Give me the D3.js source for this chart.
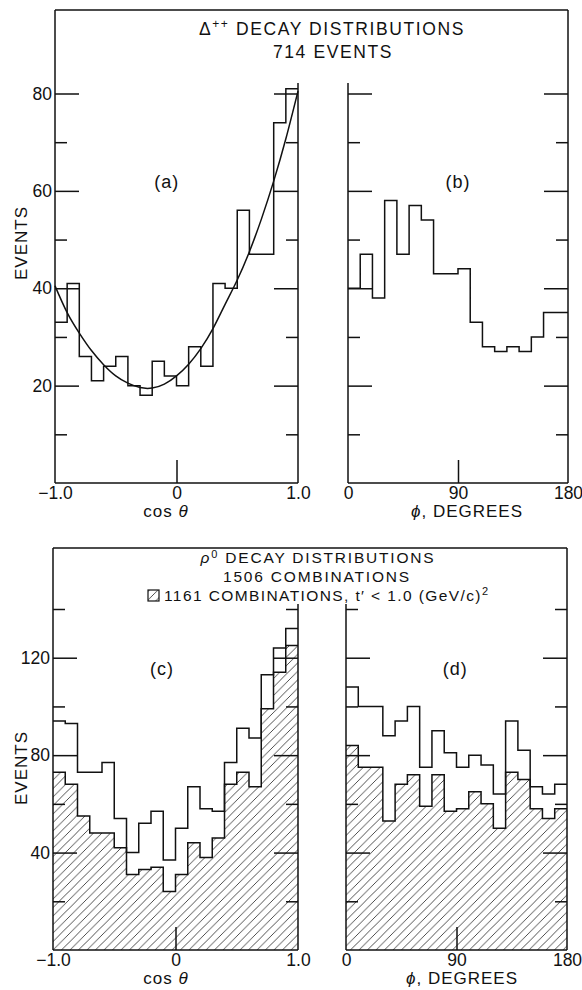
<!DOCTYPE html>
<html><head><meta charset="utf-8">
<script src="https://cdn.jsdelivr.net/npm/d3@7"></script>
<style>
body{margin:0;background:#fff}
svg{display:block}
text{font-family:"Liberation Sans",Arial,sans-serif;fill:#111}
</style>
</head><body>
<svg id="chart" width="582" height="990"></svg>
<script>
// ---------- DATA ----------
const cosEdges = [-1.0,-0.9,-0.8,-0.7,-0.6,-0.5,-0.4,-0.3,-0.2,-0.1,0.0,0.1,0.2,0.3,0.4,0.5,0.6,0.7,0.8,0.9,1.0];
const phiEdges = [0,10,20,30,40,50,60,70,80,90,100,110,120,130,140,150,160,170,180];

// (a) Delta++ cos theta, 714 events
const deltaCos = [33,41,26,21,24,26,20,18,25,22,20,28,24,41,40,56,47,47,74,81];
// fitted curve at cosEdges
const deltaFit = [40.5,35,30.8,27.2,24.3,22,20.5,19.6,19.5,20.3,22,24.4,27.6,31.7,36.7,41.7,47.5,54.3,62,70.7,80.5];
// (b) Delta++ phi
const deltaPhi = [40,47,38,58,47,57,54,43,43,44,33,28,27,28,27,30,35,35];

// (c) rho0 cos theta: all 1506 combinations, hatched 1161 combinations
const rhoCosAll = [94,93,73,73,77,54,40,52,57,37,50,67,58,57,77,91,87,113,124,132];
const rhoCosCut = [73,68,55,48,48,42,31,33,34,24,31,44,38,46,68,73,67,99,114,125];
// (d) rho0 phi
const rhoPhiAll = [108,100,100,88,94,100,75,90,81,75,80,76,64,94,82,67,64,68];
const rhoPhiCut = [84,75,75,53,68,72,59,72,57,58,65,60,50,73,70,58,54,58];

const topMajor = [20,40,60,80], topMinor = [10,30,50,70];
const botMajor = [40,80,120], botMinor = [20,60,100,140];
const cosTicks = [-1,0,1], cosTickLabels = ["\u22121.0","0","1.0"];
const phiTicks = [0,90,180], phiTickLabels = ["0","90","180"];

// ---------- DRAW ----------
const svg = d3.select("#chart");
const INK = "#111";
const SW = 1.5;

const defs = svg.append("defs");
const pat = defs.append("pattern").attr("id","hatch")
  .attr("patternUnits","userSpaceOnUse").attr("width",8.5).attr("height",8.5);
pat.append("path")
  .attr("d","M-2.125,2.125 l4.25,-4.25 M0,8.5 l8.5,-8.5 M6.375,10.625 l4.25,-4.25")
  .attr("stroke","#222").attr("stroke-width",0.8);

function stepPoints(edges, vals){
  const pts = vals.map((v,i)=>[edges[i], v]);
  pts.push([edges[edges.length-1], vals[vals.length-1]]);
  return pts;
}

function drawPanel(o){
  const g = svg.append("g");
  const x = d3.scaleLinear().domain(o.xDomain).range(o.xRange);
  const y = o.y;
  const [x0,x1] = o.xRange;
  const yb = y(0);

  if (o.cut){
    const pts = stepPoints(o.edges, o.cut);
    g.append("path").datum(pts)
      .attr("d", d3.area().curve(d3.curveStepAfter).x(d=>x(d[0])).y0(yb).y1(d=>y(d[1])))
      .attr("fill","url(#hatch)");
    g.append("path").datum(pts)
      .attr("d", d3.line().curve(d3.curveStepAfter).x(d=>x(d[0])).y(d=>y(d[1])))
      .attr("fill","none").attr("stroke",INK).attr("stroke-width",SW);
  }
  const ptsA = stepPoints(o.edges, o.vals);
  g.append("path").datum(ptsA)
    .attr("d", d3.line().curve(d3.curveStepAfter).x(d=>x(d[0])).y(d=>y(d[1])))
    .attr("fill","none").attr("stroke",INK).attr("stroke-width",SW);

  if (o.fit){
    g.append("path").datum(o.fit.map((v,i)=>[o.edges[i], v]))
      .attr("d", d3.line().curve(d3.curveNatural).x(d=>x(d[0])).y(d=>y(d[1])))
      .attr("fill","none").attr("stroke",INK).attr("stroke-width",SW);
  }

  const fr = g.append("g").attr("stroke",INK).attr("stroke-width",SW).attr("fill","none");
  fr.append("line").attr("x1",x0).attr("x2",x1).attr("y1",yb).attr("y2",yb);
  fr.append("line").attr("x1",x0).attr("x2",x0).attr("y1",o.leftTop).attr("y2",yb);
  fr.append("line").attr("x1",x1).attr("x2",x1).attr("y1",o.rightTop).attr("y2",yb);

  const clean = s => { s.select(".domain").remove(); s.selectAll("line").attr("stroke",INK).attr("stroke-width",SW); };
  g.append("g").attr("transform",`translate(${x0},0)`)
    .call(d3.axisRight(y).tickValues(o.major).tickSize(24).tickFormat("")).call(clean);
  g.append("g").attr("transform",`translate(${x0},0)`)
    .call(d3.axisRight(y).tickValues(o.minor).tickSize(12).tickFormat("")).call(clean);
  g.append("g").attr("transform",`translate(${x1},0)`)
    .call(d3.axisLeft(y).tickValues(o.major).tickSize(24).tickFormat("")).call(clean);
  g.append("g").attr("transform",`translate(${x1},0)`)
    .call(d3.axisLeft(y).tickValues(o.minor).tickSize(12).tickFormat("")).call(clean);
  if (o.yLabels){
    const ya = g.append("g").attr("transform",`translate(${x0},0)`)
      .call(d3.axisLeft(y).tickValues(o.major).tickSize(0).tickPadding(3));
    ya.select(".domain").remove();
    ya.selectAll("text").attr("font-size",17.5).attr("font-family",null).attr("fill",INK);
  }
  g.append("g").attr("transform",`translate(0,${yb})`)
    .call(d3.axisTop(x).tickValues([o.xTicks[1]]).tickSize(23).tickFormat("")).call(clean);
  const xa = g.append("g").attr("transform",`translate(0,${yb})`)
    .call(d3.axisBottom(x).tickValues(o.xTicks).tickSize(0).tickPadding(4)
      .tickFormat((d,i)=>o.xTickLabels[i]));
  xa.select(".domain").remove();
  xa.selectAll("text").attr("font-size",17.5).attr("font-family",null).attr("fill",INK);

  g.append("text").attr("x",x(o.letterPos[0])).attr("y",y(o.letterPos[1]))
    .attr("text-anchor","middle").attr("font-size",18).attr("letter-spacing",1).text(o.letter);

  const t = g.append("text").attr("x",o.titleX).attr("y",yb+34)
    .attr("text-anchor","middle").attr("font-size",17).attr("letter-spacing",1);
  o.title(t);
  return {x,y};
}

// ---------- TOP ----------
const yTop = d3.scaleLinear().domain([0,80]).range([483,93.5]);
const topFrame = 10, topInner = 83;

drawPanel({xDomain:[-1,1], xRange:[55,298], y:yTop, edges:cosEdges, vals:deltaCos, fit:deltaFit,
  leftTop:topFrame, rightTop:topInner, major:topMajor, minor:topMinor, yLabels:true,
  xTicks:cosTicks, xTickLabels:cosTickLabels, letter:"(a)", letterPos:[-0.08,60.5],
  titleX:166, title:t=>{t.append("tspan").text("cos  "); t.append("tspan").attr("font-style","italic").text("\u03b8");}});
drawPanel({xDomain:[0,180], xRange:[348,568], y:yTop, edges:phiEdges, vals:deltaPhi,
  leftTop:topInner, rightTop:topFrame, major:topMajor, minor:topMinor, yLabels:false,
  xTicks:phiTicks, xTickLabels:phiTickLabels, letter:"(b)", letterPos:[90,60.5],
  titleX:467, title:t=>{t.append("tspan").attr("font-style","italic").text("\u03d5"); t.append("tspan").text(", DEGREES");}});
svg.append("line").attr("x1",55).attr("x2",568).attr("y1",topFrame).attr("y2",topFrame)
  .attr("stroke",INK).attr("stroke-width",SW);

const t1 = svg.append("text").attr("x",332).attr("y",35).attr("text-anchor","middle")
  .attr("font-size",17.5).attr("letter-spacing",1.6);
t1.append("tspan").text("\u0394");
t1.append("tspan").attr("font-size",12).attr("dy",-7).text("++");
t1.append("tspan").attr("dy",7).text(" DECAY DISTRIBUTIONS");
svg.append("text").attr("x",333).attr("y",58).attr("text-anchor","middle")
  .attr("font-size",17.5).attr("letter-spacing",1.6).text("714 EVENTS");
svg.append("text").attr("transform","translate(27,243) rotate(-90)").attr("text-anchor","middle")
  .attr("font-size",17).attr("letter-spacing",1).text("EVENTS");

// ---------- BOTTOM ----------
const yBot = d3.scaleLinear().domain([0,140]).range([950,609]);
const botFrame = 548, botInner = 604;

drawPanel({xDomain:[-1,1], xRange:[53,298], y:yBot, edges:cosEdges, vals:rhoCosAll, cut:rhoCosCut,
  leftTop:botFrame, rightTop:botInner, major:botMajor, minor:botMinor, yLabels:true,
  xTicks:cosTicks, xTickLabels:cosTickLabels, letter:"(c)", letterPos:[-0.11,113],
  titleX:166, title:t=>{t.append("tspan").text("cos  "); t.append("tspan").attr("font-style","italic").text("\u03b8");}});
drawPanel({xDomain:[0,180], xRange:[346,567], y:yBot, edges:phiEdges, vals:rhoPhiAll, cut:rhoPhiCut,
  leftTop:botInner, rightTop:botFrame, major:botMajor, minor:botMinor, yLabels:false,
  xTicks:phiTicks, xTickLabels:phiTickLabels, letter:"(d)", letterPos:[89,113],
  titleX:462, title:t=>{t.append("tspan").attr("font-style","italic").text("\u03d5"); t.append("tspan").text(", DEGREES");}});
svg.append("line").attr("x1",53).attr("x2",567).attr("y1",botFrame).attr("y2",botFrame)
  .attr("stroke",INK).attr("stroke-width",SW);

const b1 = svg.append("text").attr("x",318).attr("y",563).attr("text-anchor","middle")
  .attr("font-size",15.5).attr("letter-spacing",1.8);
b1.append("tspan").attr("font-style","italic").text("\u03c1");
b1.append("tspan").attr("font-size",11).attr("dy",-5).text("0");
b1.append("tspan").attr("dy",5).text("  DECAY DISTRIBUTIONS");
svg.append("text").attr("x",317).attr("y",582).attr("text-anchor","middle")
  .attr("font-size",15.5).attr("letter-spacing",1.8).text("1506 COMBINATIONS");
const b3 = svg.append("text").attr("x",164).attr("y",601).attr("text-anchor","start")
  .attr("font-size",15.5).attr("letter-spacing",1.4);
b3.append("tspan").text("1161 COMBINATIONS, t\u2032 < 1.0 (GeV/c)");
b3.append("tspan").attr("font-size",11).attr("dy",-6).text("2");
svg.append("rect").attr("x",148).attr("y",590).attr("width",11).attr("height",11)
  .attr("fill","url(#hatch)").attr("stroke",INK).attr("stroke-width",1.2);
svg.append("text").attr("transform","translate(27,768) rotate(-90)").attr("text-anchor","middle")
  .attr("font-size",17).attr("letter-spacing",1).text("EVENTS");
</script>
</body></html>
